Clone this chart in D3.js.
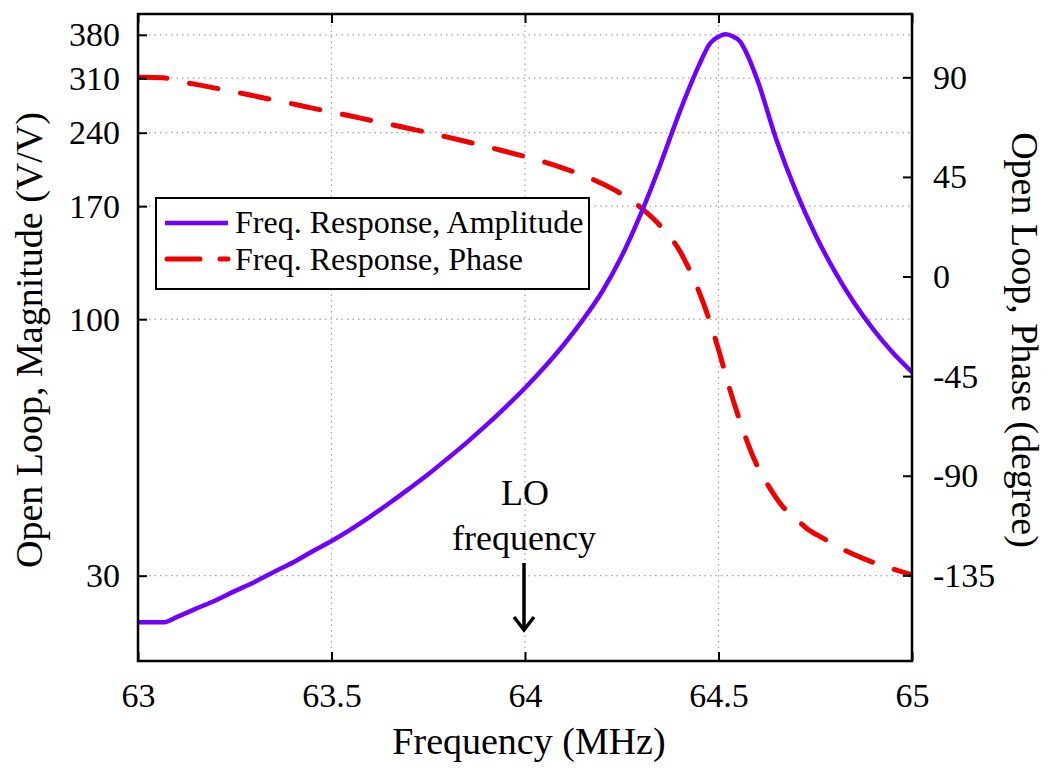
<!DOCTYPE html>
<html>
<head>
<meta charset="utf-8">
<script src="https://cdn.jsdelivr.net/npm/d3@7"></script>
<style>
  html, body { margin: 0; padding: 0; background: #fff; }
  svg { display: block; }
  text { font-family: "Liberation Serif", "Times New Roman", serif; fill: #000; }
</style>
</head>
<body>
<svg id="chart" width="1050" height="770"></svg>
<script>
// ---- data ----
const freqTicks = [63, 63.5, 64, 64.5, 65];
const freqTickLabels = ["63", "63.5", "64", "64.5", "65"];
const magTicks = [380, 310, 240, 170, 100, 30];
const phaseTicks = [90, 45, 0, -45, -90, -135];

const magFreq = [63.000, 63.065, 63.10, 63.15, 63.20, 63.25, 63.30, 63.35, 63.40, 63.45, 63.50,
  63.55, 63.60, 63.65, 63.70, 63.75, 63.80, 63.85, 63.90, 63.95, 64.00,
  64.05, 64.10, 64.15, 64.20, 64.25, 64.30, 64.35, 64.40, 64.45, 64.478, 64.50, 64.517, 64.535,
  64.556, 64.573, 64.60, 64.65, 64.70, 64.75, 64.80, 64.85, 64.90, 64.95, 65.00];
const magValue = [24.1, 24.1, 24.7, 25.7, 26.7, 27.9, 29.1, 30.5, 31.9, 33.6, 35.3,
  37.3, 39.6, 42.2, 45.1, 48.3, 52.0, 56.1, 60.8, 66.2, 72.4,
  79.8, 88.7, 99.8, 114.0, 134.5, 164.5, 207, 265, 330, 364.8, 376.7, 381, 378,
  368, 348, 308, 231.7, 182.4, 148.9, 125.3, 108.1, 95.3, 85.5, 78.0];

const phaseFreq = [63.000, 63.065, 63.10, 63.15, 63.20, 63.25, 63.30, 63.35, 63.40, 63.45, 63.50,
  63.55, 63.60, 63.65, 63.70, 63.75, 63.80, 63.85, 63.90, 63.95, 64.00, 64.05, 64.10, 64.15,
  64.20, 64.25, 64.30, 64.35, 64.40, 64.425, 64.45, 64.475, 64.50, 64.525, 64.55, 64.575,
  64.60, 64.633, 64.663, 64.70, 64.728, 64.771, 64.80, 64.84, 64.896, 64.95, 65.00];
const phaseValue = [90, 89.8, 88.4, 86.8, 85.1, 83.4, 81.6, 79.8, 78.0, 76.1, 74.3,
  72.5, 70.6, 68.8, 66.9, 65.0, 63.0, 60.9, 58.7, 56.5, 54.2, 51.7, 48.9, 45.7,
  41.9, 37.2, 31.0, 22.8, 11.5, 3.0, -7.0, -19.0, -33.0, -48.5, -62.5, -75.0,
  -85.5, -95.7, -103.3, -109.5, -113.8, -118.3, -121.3, -124.8, -128.9, -132.1, -134.8];

const legendLabels = ["Freq. Response, Amplitude", "Freq. Response, Phase"];
const colors = { mag: "#7000ff", phase: "#f20000" };

// ---- layout ----
const L = 138, R = 912, T = 14, B = 661;
const svg = d3.select("#chart");

const x = d3.scaleLinear().domain([63, 65]).range([L, R]);
const yMag = d3.scaleLog().domain([20.1, 419]).range([B, T]);
const yPh = d3.scaleLinear().domain([-173.7, 118.6]).range([B, T]);

// grid
const grid = svg.append("g").attr("stroke", "#a0a0a0").attr("stroke-width", 1.2)
  .attr("stroke-dasharray", "1.5,4");
grid.selectAll("line.gx").data(freqTicks.filter(d => d > 63 && d < 65)).join("line")
  .attr("x1", d => x(d)).attr("x2", d => x(d)).attr("y1", T).attr("y2", B);
grid.selectAll("line.gy").data(magTicks).join("line")
  .attr("x1", L).attr("x2", R).attr("y1", d => yMag(d)).attr("y2", d => yMag(d));

// clip
svg.append("clipPath").attr("id", "plotclip").append("rect")
  .attr("x", L).attr("y", T).attr("width", R - L).attr("height", B - T);

const plot = svg.append("g").attr("clip-path", "url(#plotclip)");

// phase curve (dashed red)
const phaseData = phaseFreq.map((f, i) => [f, phaseValue[i]]);
plot.append("path").datum(phaseData)
  .attr("fill", "none").attr("stroke", colors.phase).attr("stroke-width", 5)
  .attr("stroke-dasharray", "29,23").attr("stroke-linecap", "round")
  .attr("d", d3.line().x(d => x(d[0])).y(d => yPh(d[1])).curve(d3.curveMonotoneX));

// magnitude curve (solid purple)
const magData = magFreq.map((f, i) => [f, magValue[i]]);
plot.append("path").datum(magData)
  .attr("fill", "none").attr("stroke", colors.mag).attr("stroke-width", 4.5)
  .attr("stroke-linejoin", "round")
  .attr("d", d3.line().x(d => x(d[0])).y(d => yMag(d[1])).curve(d3.curveMonotoneX));

// axes
const fontTick = "34px";
const axL = svg.append("g").attr("transform", `translate(${L},0)`)
  .call(d3.axisLeft(yMag).tickValues(magTicks).tickFormat(d => String(d)).tickSize(-9).tickPadding(18));
const axR = svg.append("g").attr("transform", `translate(${R},0)`)
  .call(d3.axisRight(yPh).tickValues(phaseTicks).tickFormat(d => String(d)).tickSize(-9).tickPadding(21));
const axB = svg.append("g").attr("transform", `translate(0,${B})`)
  .call(d3.axisBottom(x).tickValues(freqTicks).tickFormat((d, i) => freqTickLabels[i]).tickSize(-9).tickPadding(22));
const axT = svg.append("g").attr("transform", `translate(0,${T})`)
  .call(d3.axisTop(x).tickValues(freqTicks).tickFormat("").tickSize(-9));

[axL, axR, axB, axT].forEach(g => {
  g.select(".domain").remove();
  g.selectAll(".tick line").attr("stroke", "#000").attr("stroke-width", 2);
  g.selectAll(".tick text").attr("font-size", fontTick)
    .attr("font-family", "'Liberation Serif', 'Times New Roman', serif").attr("fill", "#000");
});

// frame
svg.append("rect").attr("x", L).attr("y", T).attr("width", R - L).attr("height", B - T)
  .attr("fill", "none").attr("stroke", "#000").attr("stroke-width", 2.5);

// axis titles
svg.append("text").attr("transform", "translate(42,340) rotate(-90)")
  .attr("text-anchor", "middle").attr("font-size", "38px").text("Open Loop, Magnitude (V/V)");
svg.append("text").attr("transform", "translate(1012,340) rotate(90)")
  .attr("text-anchor", "middle").attr("font-size", "38px").text("Open Loop, Phase (degree)");
svg.append("text").attr("x", 529).attr("y", 754)
  .attr("text-anchor", "middle").attr("font-size", "38px").text("Frequency (MHz)");

// legend
const lg = svg.append("g");
lg.append("rect").attr("x", 156).attr("y", 198).attr("width", 433).attr("height", 91)
  .attr("fill", "#fff").attr("stroke", "#000").attr("stroke-width", 2);
lg.append("line").attr("x1", 165).attr("x2", 228).attr("y1", 223).attr("y2", 223)
  .attr("stroke", colors.mag).attr("stroke-width", 4.5);
lg.append("line").attr("x1", 167).attr("x2", 228).attr("y1", 259).attr("y2", 259)
  .attr("stroke", colors.phase).attr("stroke-width", 5)
  .attr("stroke-dasharray", "33,20").attr("stroke-linecap", "round");
lg.selectAll("text.lt").data(legendLabels).join("text")
  .attr("x", 235).attr("y", (d, i) => 233 + i * 37)
  .attr("font-size", "32px").text(d => d);

// LO frequency annotation
const loF = 64;
svg.append("text").attr("x", x(loF)).attr("y", 505).attr("text-anchor", "middle")
  .attr("font-size", "36px").text("LO");
svg.append("text").attr("x", x(loF) - 1).attr("y", 550).attr("text-anchor", "middle")
  .attr("font-size", "36px").text("frequency");
const ax0 = x(loF) - 1;
svg.append("line").attr("x1", ax0).attr("x2", ax0).attr("y1", 563).attr("y2", 629)
  .attr("stroke", "#000").attr("stroke-width", 3.5);
svg.append("path").attr("d", `M${ax0 - 10},617 L${ax0},630 L${ax0 + 10},617`)
  .attr("fill", "none").attr("stroke", "#000").attr("stroke-width", 3.5)
  .attr("stroke-linejoin", "miter");
</script>
</body>
</html>
